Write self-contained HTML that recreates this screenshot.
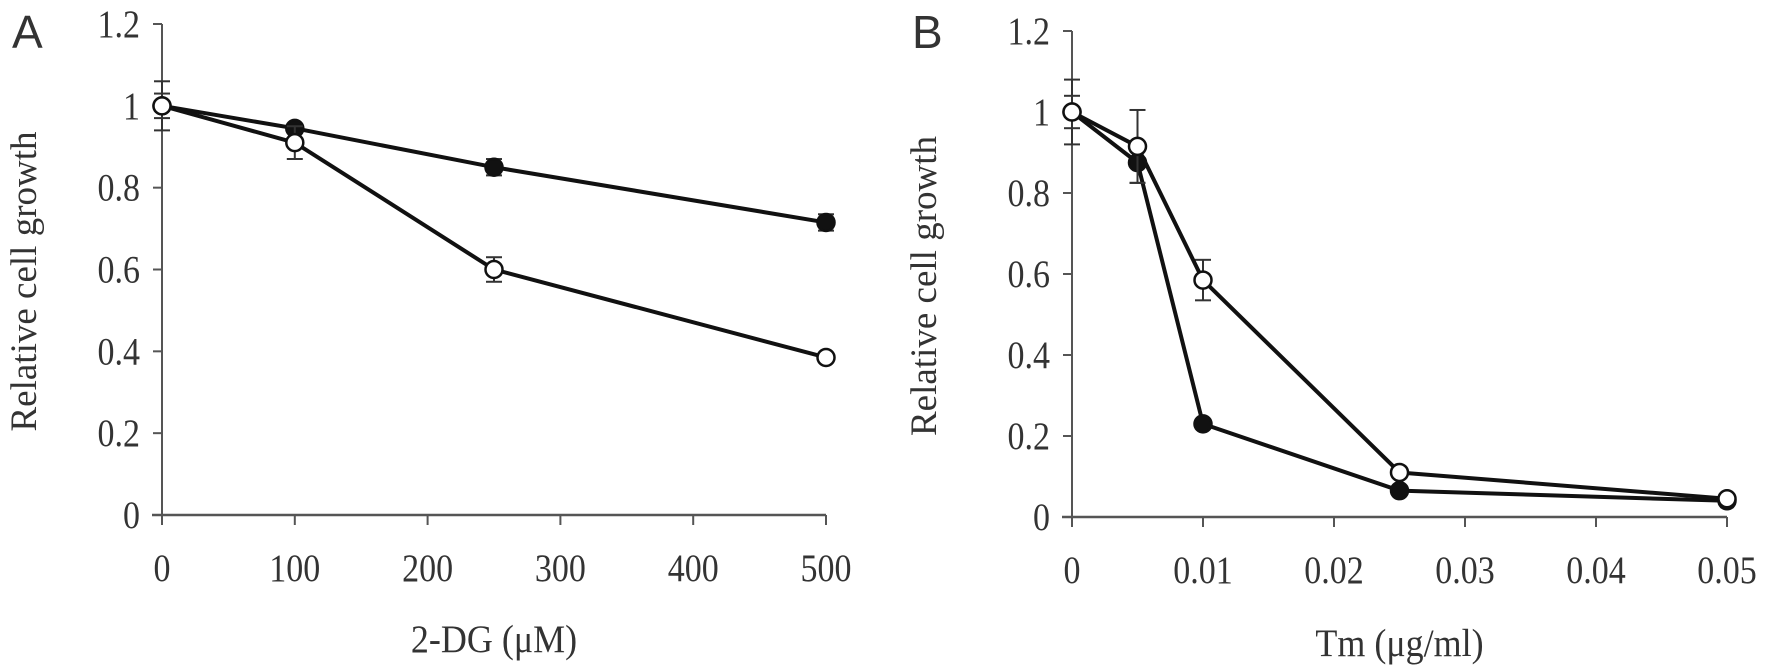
<!DOCTYPE html>
<html><head><meta charset="utf-8"><style>
html,body{margin:0;padding:0;background:#fff;}
svg{display:block;}
text{font-family:"Liberation Serif",serif;fill:#333;}
</style></head><body>
<svg id="c" width="1772" height="672" viewBox="0 0 1772 672" xmlns="http://www.w3.org/2000/svg"></svg>
<script>
const yTicks=[0,0.2,0.4,0.6,0.8,1,1.2];
const yTickLabels=["0","0.2","0.4","0.6","0.8","1","1.2"];
const xA=[0,100,250,500];
const aFilled=[1,0.945,0.85,0.715];
const aFilledErr=[0.06,0,0.02,0.02];
const aOpen=[1,0.91,0.60,0.385];
const aOpenErr=[0.03,0.04,0.03,0];
const xATicks=[0,100,200,300,400,500];
const xATickLabels=["0","100","200","300","400","500"];
const xB=[0,0.005,0.01,0.025,0.05];
const bFilled=[1,0.875,0.23,0.065,0.04];
const bFilledErr=[0.08,0.05,0,0,0];
const bOpen=[1,0.915,0.585,0.11,0.045];
const bOpenErr=[0.04,0.09,0.05,0,0];
const xBTicks=[0,0.01,0.02,0.03,0.04,0.05];
const xBTickLabels=["0","0.01","0.02","0.03","0.04","0.05"];

const svg=document.getElementById('c');
const NS='http://www.w3.org/2000/svg';
function el(tag,attrs,parent){const e=document.createElementNS(NS,tag);for(const k in attrs)e.setAttribute(k,attrs[k]);(parent||svg).appendChild(e);return e;}

function panel(cfg){
  const g=el('g',{});
  
  
  const sx=v=>cfg.x0+(v-cfg.xmin)/(cfg.xmax-cfg.xmin)*(cfg.x1-cfg.x0);
  const sy=v=>cfg.y0-v/1.2*(cfg.y0-cfg.y1);
  const ax=el('g',{},g);
  
  
  el('line',{x1:sx(0),y1:sy(1.2),x2:sx(0),y2:sy(0),stroke:'#555','stroke-width':2},ax);
  el('line',{x1:sx(0)-10,y1:sy(0),x2:cfg.x1,y2:sy(0),stroke:'#555','stroke-width':2.5},ax);
  yTicks.forEach((t,i)=>{
    el('line',{x1:sx(0)-9,y1:sy(t),x2:sx(0),y2:sy(t),stroke:'#555','stroke-width':2},ax);
    const tx=el('text',{x:0,y:0,'text-anchor':'end','font-size':34,transform:`translate(${sx(0)-22},${sy(t)+13}) scale(1,1.15)`},ax);
    tx.textContent=yTickLabels[i];
    
    
  });
  cfg.xTicks.forEach((t,i)=>{
    el('line',{x1:sx(t),y1:sy(0),x2:sx(t),y2:sy(0)+10,stroke:'#555','stroke-width':2},ax);
    const tx=el('text',{x:0,y:0,'text-anchor':'middle','font-size':34,transform:`translate(${sx(t)},${sy(0)+66}) scale(1,1.15)`},ax);
    tx.textContent=cfg.xLabels[i];
    
    
  });
  const yt=el('text',{x:0,y:0,'text-anchor':'middle','font-size':37,transform:`translate(${cfg.ytX},${(sy(0)+sy(1.2))/2+12}) rotate(-90)`},g);
  yt.textContent='Relative cell growth';
  
  
  const xt=el('text',{x:0,y:0,'text-anchor':'middle','font-size':36,transform:`translate(${(sx(cfg.xmin)+cfg.x1)/2},${cfg.xtY}) scale(1,1.1)`},g);
  xt.textContent=cfg.xTitle;
  
  
  const lt=el('text',{x:cfg.letterX,y:48,'font-size':46,style:'font-family:"Liberation Sans",sans-serif'},g);
  lt.textContent=cfg.id.toUpperCase();
  
  
  function series(vals,errs,filled,name){
    const s=el('g',{},g);
    
    
    vals.forEach((v,i)=>{
      const e=errs[i]; if(!e) return;
      const x=sx(cfg.xs[i]);
      el('line',{x1:x,y1:sy(v-e),x2:x,y2:sy(v+e),stroke:'#333','stroke-width':2},s);
      el('line',{x1:x-8,y1:sy(v-e),x2:x+8,y2:sy(v-e),stroke:'#333','stroke-width':2},s);
      el('line',{x1:x-8,y1:sy(v+e),x2:x+8,y2:sy(v+e),stroke:'#333','stroke-width':2},s);
    });
    const pts=vals.map((v,i)=>sx(cfg.xs[i])+','+sy(v)).join(' ');
    el('polyline',{points:pts,fill:'none',stroke:'#111','stroke-width':4,'stroke-linejoin':'round'},s);
    vals.forEach((v,i)=>{
      const c=el('circle',{cx:sx(cfg.xs[i]),cy:sy(v),r:8.5,fill:filled?'#111':'#fff',stroke:'#111','stroke-width':2.5},s);
      
      
    });
  }
  series(cfg.filled,cfg.filledErr,true,'series-filled');
  series(cfg.open,cfg.openErr,false,'series-open');
}
panel({id:'a',x0:162,x1:826,xmin:0,xmax:500,y0:515,y1:24,xs:xA,filled:aFilled,filledErr:aFilledErr,open:aOpen,openErr:aOpenErr,xTicks:xATicks,xLabels:xATickLabels,xTitle:'2-DG (\u03bcM)',ytX:36,xtY:652,letterX:12});
panel({id:'b',x0:1072,x1:1727,xmin:0,xmax:0.05,y0:517,y1:31,xs:xB,filled:bFilled,filledErr:bFilledErr,open:bOpen,openErr:bOpenErr,xTicks:xBTicks,xLabels:xBTickLabels,xTitle:'Tm (\u03bcg/ml)',ytX:936,xtY:656,letterX:912});
</script>
</body></html>
